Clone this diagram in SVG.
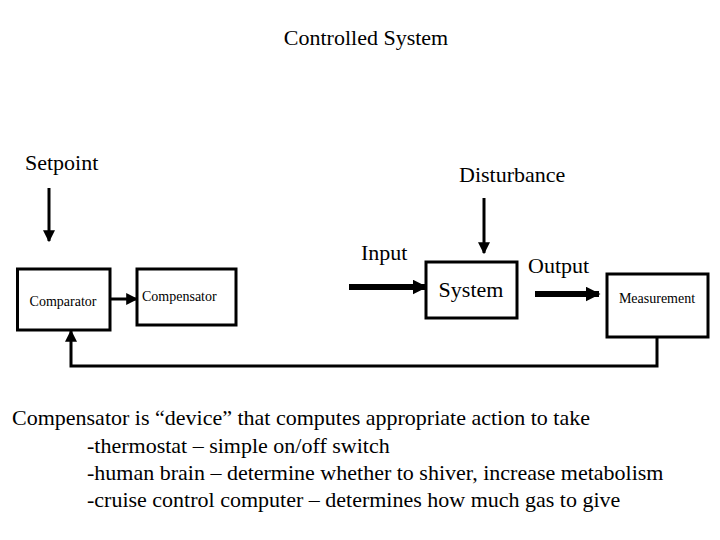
<svg xmlns="http://www.w3.org/2000/svg" width="720" height="540" viewBox="0 0 720 540" font-family="'Liberation Serif','Times New Roman',Times,Tinos,'DejaVu Serif',serif">
<style>
text{font-family:"Liberation Serif","Times New Roman",Times,Tinos,"DejaVu Serif",serif;fill:#000}
.b{fill:#fff;stroke:#000;stroke-width:3}
.l{fill:none;stroke:#000;stroke-width:3}
.t{fill:none;stroke:#000;stroke-width:6}
.s{font-size:14px}
.m{font-size:22px}
</style>
<defs>
<marker id="a" viewBox="0 0 10 10" refX="9" refY="5" markerWidth="4" markerHeight="4" orient="auto" markerUnits="strokeWidth"><path d="M0,0L10,5L0,10z"/></marker>
<marker id="a2" viewBox="0 0 10 10" refX="9" refY="5" markerWidth="2.5" markerHeight="2.5" orient="auto" markerUnits="strokeWidth"><path d="M0,0L10,5L0,10z"/></marker>
</defs>
<rect width="720" height="540" fill="#fff"/>
<text x="366" y="45" class="m" text-anchor="middle">Controlled System</text>
<text x="25" y="170" class="m">Setpoint</text>
<text x="459" y="182" class="m">Disturbance</text>
<text x="361" y="260" class="m">Input</text>
<text x="528" y="273" class="m">Output</text>
<g id="connectors">
<line class="l" x1="49" y1="188" x2="49" y2="241" marker-end="url(#a)"/>
<line class="l" x1="484" y1="198" x2="484" y2="253" marker-end="url(#a)"/>
<line class="l" x1="110" y1="299" x2="137" y2="299" marker-end="url(#a)"/>
<line class="t" x1="349" y1="287" x2="426" y2="287" marker-end="url(#a2)"/>
<line class="t" x1="535" y1="294" x2="599" y2="294" marker-end="url(#a2)"/>
<polyline class="l" points="657,337 657,366 71,366 71,331" marker-end="url(#a)"/>
</g>
<g id="comparator"><rect class="b" x="17.5" y="269" width="92.5" height="61"/><text x="63" y="306" class="s" text-anchor="middle">Comparator</text></g>
<g id="compensator"><rect class="b" x="137" y="269" width="99" height="56"/><text x="142" y="301" class="s">Compensator</text></g>
<g id="system"><rect class="b" x="426" y="262" width="91" height="56"/><text x="471" y="297" class="m" text-anchor="middle">System</text></g>
<g id="measurement"><rect class="b" x="607" y="274" width="101" height="63"/><text x="657" y="303" class="s" text-anchor="middle">Measurement</text></g>
<text x="12" y="425" class="m">Compensator is “device” that computes appropriate action to take</text>
<text x="87" y="453" class="m">-thermostat – simple on/off switch</text>
<text x="87" y="480" class="m">-human brain – determine whether to shiver, increase metabolism</text>
<text x="87" y="507" class="m">-cruise control computer – determines how much gas to give</text>
</svg>
